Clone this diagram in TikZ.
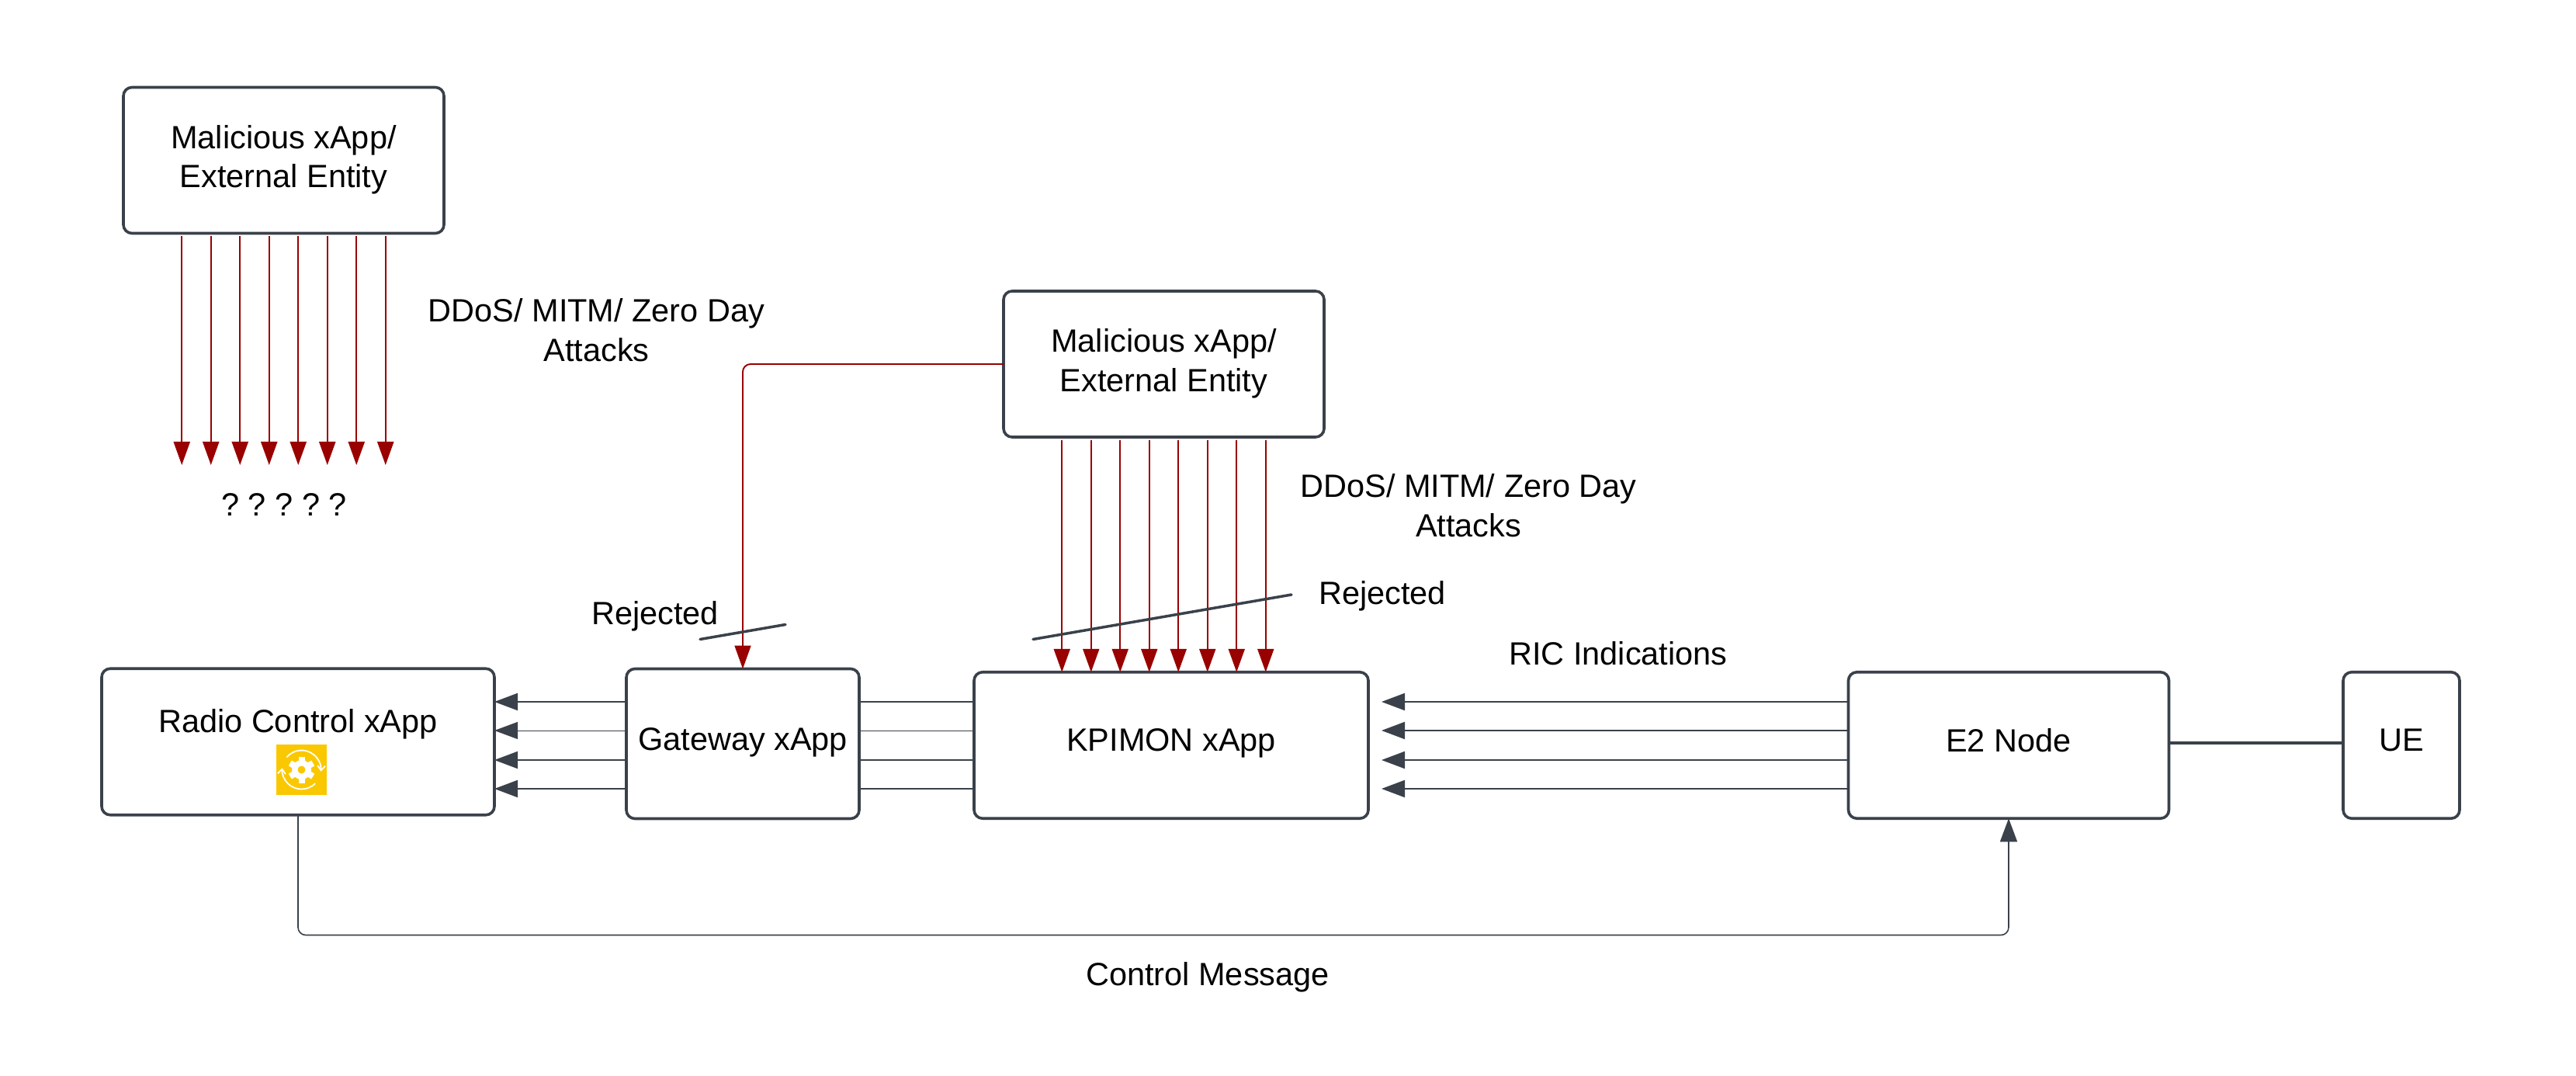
\documentclass[tikz,border=0pt]{standalone}
\usepackage{fontspec}
\setmainfont{Liberation Sans}
\usepackage{tikz}
\usetikzlibrary{arrows.meta}
\definecolor{boxgray}{HTML}{3A414A}
\definecolor{attackred}{HTML}{990000}
\definecolor{iconyellow}{HTML}{FAC800}
\tikzset{
    diagram/.style = {font=\fontsize{11.8}{14.4}\selectfont\frenchspacing},
    unit/.style = {draw=boxgray, line width=0.036cm, rounded corners=0.11cm, outer sep=0, align=center, fill=white},
    plain/.style = {align=center},
    attack/.style = {draw=attackred, line width=0.022cm, -{Triangle[length=0.3cm,width=0.21cm]}},
    flow/.style = {draw=boxgray, line width=0.02cm, -{Triangle[length=0.3cm,width=0.22cm]}},
    link/.style = {draw=boxgray, line width=0.02cm},
    bar/.style = {draw=boxgray, line width=0.035cm, line cap=round},
    iconarc/.style = {draw=white, line width=0.018cm, -{Straight Barb[length=0.06cm,width=0.1cm]}}
}
\begin{document}
\begin{tikzpicture}[diagram]
    \useasboundingbox (0,0) rectangle (33.19,-13.86);

    \node[unit, minimum width=4.13cm, minimum height=1.88cm, text depth=0.1cm] (mal1) at (3.655,-2.065) {Malicious xApp/\\External Entity};
    \node[unit, minimum width=4.13cm, minimum height=1.88cm, text depth=0.1cm] (mal2) at (14.995,-4.69) {Malicious xApp/\\External Entity};
    \node[unit, minimum width=5.06cm, minimum height=1.885cm, text depth=0.55cm] (radio) at (3.84,-9.555) {Radio Control xApp};
    \node[unit, minimum width=3.0cm, minimum height=1.93cm, text depth=0.12cm] (gateway) at (9.57,-9.58) {Gateway xApp};
    \node[unit, minimum width=5.08cm, minimum height=1.885cm, text depth=0.14cm] (kpimon) at (15.09,-9.60) {KPIMON xApp};
    \node[unit, minimum width=4.13cm, minimum height=1.885cm, text depth=0.14cm] (e2) at (25.88,-9.60) {E2 Node};
    \node[unit, minimum width=1.50cm, minimum height=1.885cm, text depth=0.14cm] (ue) at (30.94,-9.60) {UE};

    \node[plain] (attacks1) at (7.685,-4.25) {DDoS/ MITM/ Zero Day\\Attacks};
    \node[plain] (attacks2) at (18.92,-6.51) {DDoS/ MITM/ Zero Day\\Attacks};
    \node[plain] (unknown) at (3.66,-6.50) {? ? ? ? ?};
    \node[plain] (rej1) at (8.44,-7.94) {Rejected};
    \node[plain] (rej2) at (17.81,-7.68) {Rejected};
    \node[plain] (ric) at (20.85,-8.415) {RIC Indications};
    \node[plain] (ctrl) at (15.56,-12.59) {Control Message};

    % attacks that hit nothing
    \coordinate (mal1end) at (3.65,-5.99);
    \foreach \x in {-1.3125,-0.9375,-0.5625,-0.1875,0.1875,0.5625,0.9375,1.3125}
        \draw[attack] ([xshift=\x cm,yshift=-0.04cm]mal1.south) -- ([xshift=\x cm]mal1.south |- mal1end);

    % attacks on KPIMON
    \foreach \x in {-1.3125,-0.9375,-0.5625,-0.1875,0.1875,0.5625,0.9375,1.3125}
        \draw[attack] ([xshift=\x cm,yshift=-0.04cm]mal2.south) -- ([xshift=\x cm]mal2.south |- kpimon.north);
    \draw[attack, line width=0.019cm, rounded corners=0.1cm] (mal2.west) -| (gateway.north);

    \coordinate (bar1a) at (9.02,-8.235);
    \coordinate (bar1b) at (10.12,-8.045);
    \coordinate (bar2a) at (13.31,-8.235);
    \coordinate (bar2b) at (16.64,-7.66);
    \draw[bar] (bar1a) -- (bar1b);
    \draw[bar] (bar2a) -- (bar2b);

    % bundles between the xApps
    \foreach \y/\w in {0.56/0.02,0.19/0.01,-0.19/0.02,-0.56/0.02} {
        \draw[flow, line width=\w cm] ([yshift=\y cm]kpimon.west -| gateway.west) -- ([yshift=\y cm]kpimon.west -| radio.east);
        \draw[link, line width=\w cm] ([yshift=\y cm]kpimon.west) -- ([yshift=\y cm]kpimon.west -| gateway.east);
        \draw[flow, shorten >=0.17cm] ([yshift=\y cm]e2.west) -- ([yshift=\y cm]e2.west -| kpimon.east);
    }
    \draw[boxgray, line width=0.04cm] ([yshift=0.03cm]e2.east) -- ([yshift=0.03cm]ue.west);

    \coordinate (ctrlmid) at (15.0,-12.045);
    \draw[flow, line width=0.016cm, rounded corners=0.1cm] (radio.south) |- (ctrlmid) -| (e2.south);

    % the yellow icon
    \node[fill=iconyellow, minimum size=0.655cm, inner sep=0, outer sep=0] (icon) at (3.885,-9.915) {};
    \foreach \a in {30,90,...,330}
        \draw[white, line width=0.08cm] (icon.center) -- ++(\a:0.17);
    \fill[white] (icon.center) circle (0.125);
    \fill[iconyellow] (icon.center) circle (0.05);
    \draw[iconarc] ([shift={(140:0.25)}]icon.center) arc (140:-5:0.25);
    \draw[iconarc] ([shift={(-45:0.25)}]icon.center) arc (-45:-185:0.25);
\end{tikzpicture}
\end{document}
